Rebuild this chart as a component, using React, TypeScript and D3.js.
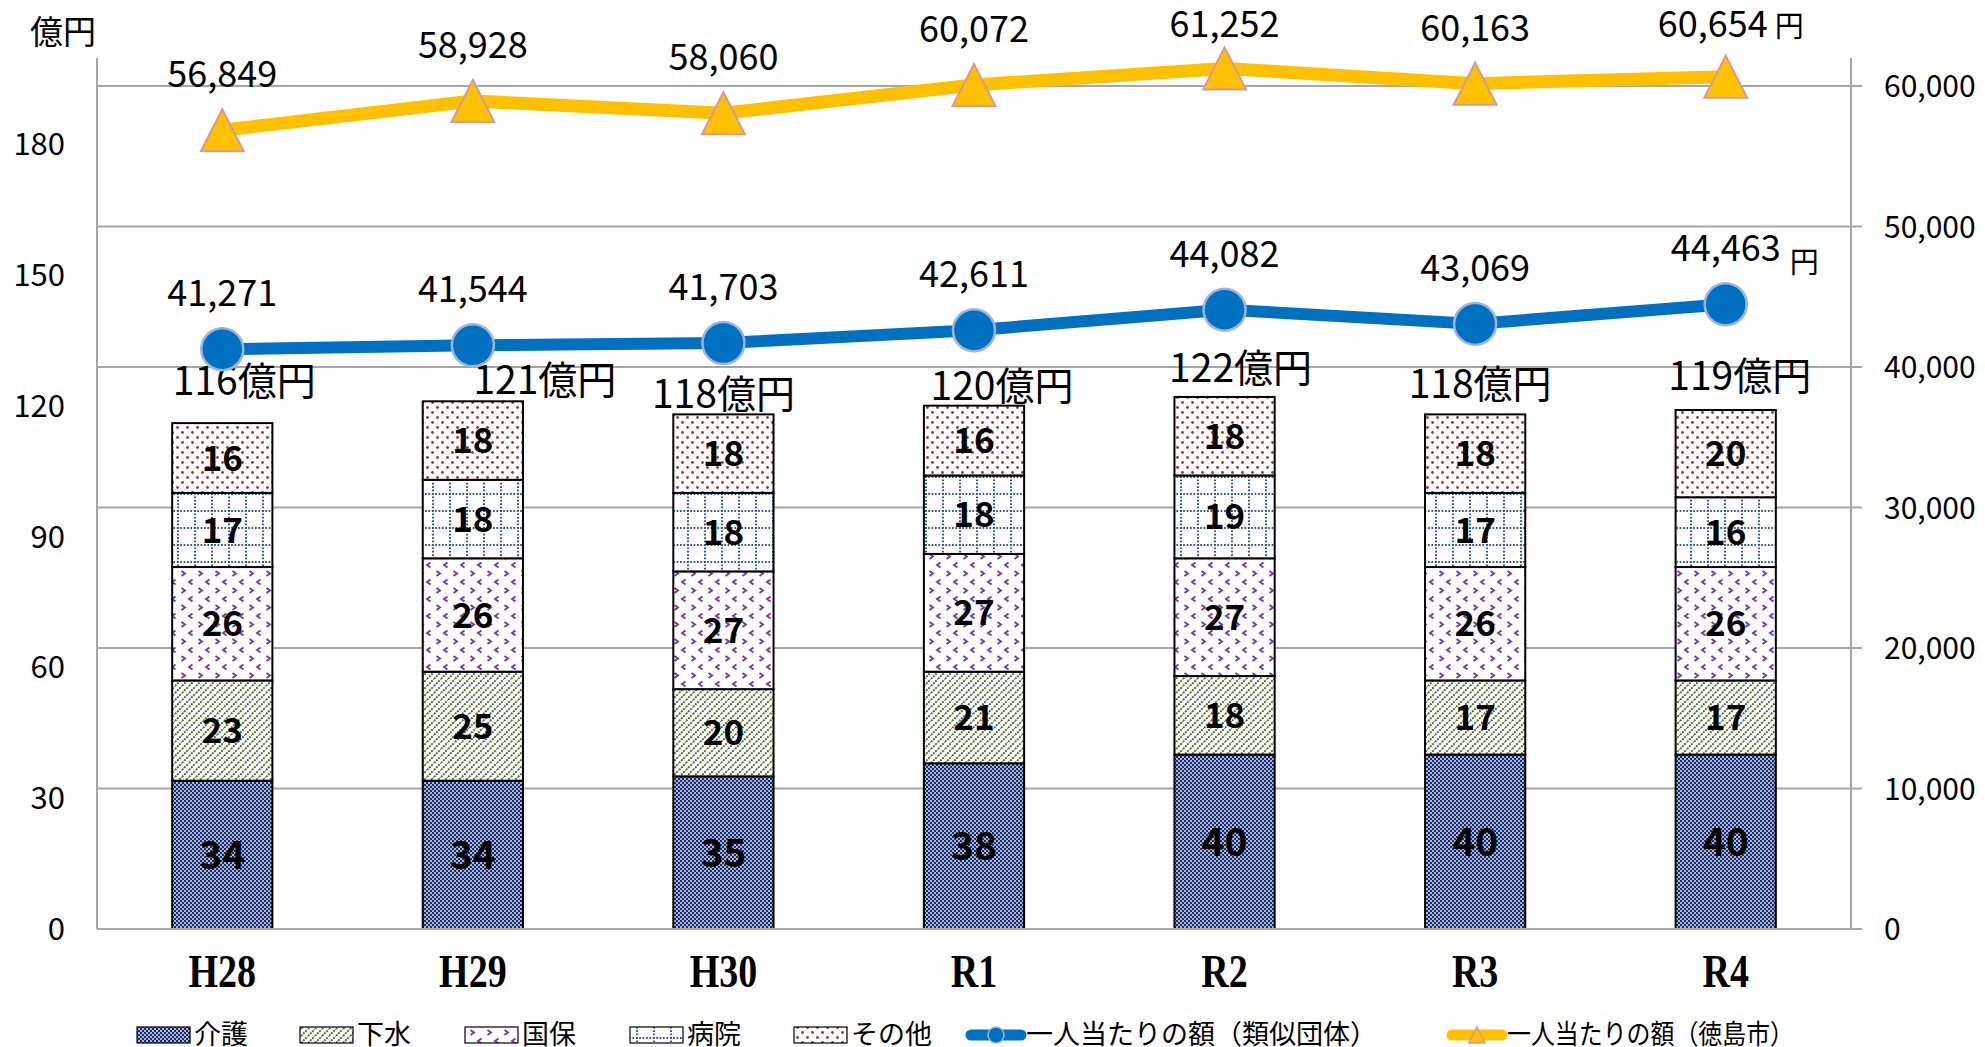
import React from "react";
import * as d3 from "d3";

// ---------- data ----------
const categories = ["H28", "H29", "H30", "R1", "R2", "R3", "R4"];
const seriesNames = ["介護", "下水", "国保", "病院", "その他"];
const kaigo = [34, 34, 35, 38, 40, 40, 40];
const gesui = [23, 25, 20, 21, 18, 17, 17];
const kokuho = [26, 26, 27, 27, 27, 26, 26];
const byoin = [17, 18, 18, 18, 19, 17, 16];
const sonota = [16, 18, 18, 16, 18, 18, 20];
const totals = [116, 121, 118, 120, 122, 118, 119];
const similarPerCapita = [41271, 41544, 41703, 42611, 44082, 43069, 44463];
const tokushimaPerCapita = [56849, 58928, 58060, 60072, 61252, 60163, 60654];
const lineNames = ["一人当たりの額（類似団体）", "一人当たりの額（徳島市）"];
const leftTicks = [0, 30, 60, 90, 120, 150, 180];
const rightTicks = [0, 10000, 20000, 30000, 40000, 50000, 60000];
const leftUnit = "億円";
const totalSuffix = "億円";
const yenSuffix = "円";

// ---------- layout (not data) ----------
const W = 1985;
const H = 1047;
const plotLeft = 97;
const plotRight = 1851;
const plotTop = 86;
const plotBottom = 929;
const totalLabelNudge = [
  [22, -14],
  [72, 7],
  [0, 8],
  [28, 8],
  [16, -1],
  [5, -2],
  [14, -6],
];
const legendStarts = [137, 300, 465, 630, 794, 966, 1447];
const legendLineTextW = [351, 287];
const JP = "'Noto Sans CJK JP', 'Noto Sans', sans-serif";
const patternIds = ["pKaigo", "pGesui", "pKokuho", "pByoin", "pSonota"];

export default function App() {
  const seriesValues = [kaigo, gesui, kokuho, byoin, sonota];
  const rows = categories.map((c, i) => {
    const r: any = { cat: c };
    seriesNames.forEach((s, k) => (r[s] = seriesValues[k][i]));
    return r;
  });
  const stacked = d3.stack().keys(seriesNames)(rows);

  const x = d3
    .scaleBand()
    .domain(categories)
    .range([plotLeft, plotRight])
    .paddingInner(0.6)
    .paddingOuter(0.3);
  const cx = (c: string) => (x(c) as number) + x.bandwidth() / 2;
  const yL = d3.scaleLinear().domain([0, 193.3]).range([plotBottom, plotTop]);
  const yR = d3.scaleLinear().domain([0, 60000]).range([plotBottom, plotTop]);

  const line = d3
    .line<number>()
    .x((_, i) => cx(categories[i]))
    .y((d) => yR(d));

  const gridColor = "#a6a6a6";
  const fmt = d3.format(",");

  const legendItems = [
    ...seriesNames.map((n, k) => ({ name: n, kind: "bar", k })),
    { name: lineNames[0], kind: "blue", k: 0 },
    { name: lineNames[1], kind: "orange", k: 1 },
  ];
  const legY = 1035;

  const tri = (px: number, py: number, s: number) =>
    `M${px},${py - s}L${px + s * 1.02},${py + s}L${px - s * 1.02},${py + s}Z`;

  const lastI = categories.length - 1;
  const orangeLastDx = -13;
  const topClamp = 37;

  return (
    <svg
      width={W}
      height={H}
      style={{ position: "absolute", left: 0, top: 0, background: "#fff" }}
    >
      <defs>
        <pattern id="pKaigo" width="4" height="4" patternUnits="userSpaceOnUse">
          <rect width="4" height="4" fill="#aab6d6" />
          <rect width="2" height="2" fill="#1a2c66" />
          <rect x="2" y="2" width="2" height="2" fill="#1a2c66" />
        </pattern>
        <pattern id="pGesui" width="7" height="7" patternUnits="userSpaceOnUse">
          <rect width="7" height="7" fill="#fff" />
          <path
            d="M0,7L7,0M-2,2L2,-2M5,9L9,5"
            stroke="#4e6b2a"
            strokeWidth="1.9"
            strokeDasharray="2,1"
          />
        </pattern>
        <pattern id="pKokuho" width="17" height="17" patternUnits="userSpaceOnUse">
          <rect width="17" height="17" fill="#fff" />
          <path
            d="M5.5,1.5L2,4L5.5,6.5M11.5,10L15,12.5L11.5,15"
            stroke="#7a35b0"
            strokeWidth="1.9"
            fill="none"
          />
        </pattern>
        <pattern id="pByoin" width="17" height="17" patternUnits="userSpaceOnUse">
          <rect width="17" height="17" fill="#fff" />
          <path
            d="M0,1H17M8,0V17"
            stroke="#2f5597"
            strokeWidth="2"
            strokeDasharray="1.7,1.7"
          />
        </pattern>
        <pattern id="pSonota" width="10" height="10" patternUnits="userSpaceOnUse">
          <rect width="10" height="10" fill="#fff" />
          <circle cx="2.5" cy="2.5" r="1.4" fill="#a83232" />
          <circle cx="7.5" cy="7.5" r="1.4" fill="#a83232" />
        </pattern>
      </defs>

      {/* gridlines from right axis */}
      {rightTicks.map((t) => (
        <line
          key={"g" + t}
          x1={plotLeft}
          x2={plotRight + 11}
          y1={yR(t)}
          y2={yR(t)}
          stroke={gridColor}
          strokeWidth={2}
        />
      ))}
      <line x1={plotLeft} x2={plotLeft} y1={58} y2={plotBottom} stroke={gridColor} strokeWidth={2} />
      <line x1={plotRight} x2={plotRight} y1={58} y2={plotBottom} stroke={gridColor} strokeWidth={2} />

      {/* left axis labels */}
      {leftTicks.map((t) => (
        <text
          key={"l" + t}
          x={65}
          y={yL(t) + 11}
          textAnchor="end"
          fontFamily={JP}
          fontSize={31}
          fill="#000"
        >
          {t}
        </text>
      ))}
      <text x={30} y={44} fontFamily={JP} fontSize={33} fill="#000">
        {leftUnit}
      </text>
      {/* right axis labels */}
      {rightTicks.map((t) => (
        <text
          key={"r" + t}
          x={1884}
          y={yR(t) + 11}
          textAnchor="start"
          fontFamily={JP}
          fontSize={30}
          fill="#000"
        >
          {fmt(t)}
        </text>
      ))}
      {/* x labels */}
      {categories.map((c) => (
        <text
          key={"x" + c}
          transform={`translate(${cx(c)},${987}) scale(1,1.22)`}
          textAnchor="middle"
          fontFamily="'Liberation Serif', 'Times New Roman', serif"
          fontWeight="bold"
          fontSize={38}
          fill="#000"
        >
          {c}
        </text>
      ))}

      {/* bars */}
      {stacked.map((s, k) => (
        <g key={"s" + k}>
          {s.map((d, i) => {
            const y0 = yL(d[0]);
            const y1 = yL(d[1]);
            const fs = k === 0 ? 39 : 35;
            return (
              <g key={i}>
                <rect
                  x={x(categories[i])}
                  y={y1}
                  width={x.bandwidth()}
                  height={y0 - y1}
                  fill={`url(#${patternIds[k]})`}
                  stroke="#000"
                  strokeWidth={2}
                />
                <text
                  x={cx(categories[i])}
                  y={(y0 + y1) / 2 + fs * 0.36}
                  textAnchor="middle"
                  fontFamily={JP}
                  fontWeight="bold"
                  fontSize={fs}
                  fill="#000"
                >
                  {d[1] - d[0]}
                </text>
              </g>
            );
          })}
        </g>
      ))}

      {/* total labels */}
      {categories.map((c, i) => (
        <text
          key={"t" + c}
          x={cx(c) + totalLabelNudge[i][0]}
          y={yL(totals[i]) - 28 + totalLabelNudge[i][1] + 14}
          textAnchor="middle"
          fontFamily={JP}
          fontSize={39}
          fill="#000"
        >
          {totals[i]}
          {totalSuffix}
        </text>
      ))}

      {/* lines */}
      <path
        d={line(tokushimaPerCapita) as string}
        fill="none"
        stroke="#ffc000"
        strokeWidth={13}
        strokeLinejoin="round"
      />
      <path
        d={line(similarPerCapita) as string}
        fill="none"
        stroke="#0070c0"
        strokeWidth={12}
        strokeLinejoin="round"
      />
      {tokushimaPerCapita.map((v, i) => (
        <path
          key={"tm" + i}
          d={tri(cx(categories[i]), yR(v), 21)}
          fill="#ffc000"
          stroke="#d49a9a"
          strokeWidth={2}
        />
      ))}
      {similarPerCapita.map((v, i) => (
        <circle
          key={"cm" + i}
          cx={cx(categories[i])}
          cy={yR(v)}
          r={21}
          fill="#0070c0"
          stroke="#9db5de"
          strokeWidth={2.5}
        />
      ))}
      {/* line labels */}
      {tokushimaPerCapita.map((v, i) => (
        <text
          key={"tl" + i}
          x={cx(categories[i]) + (i === lastI ? orangeLastDx : 0)}
          y={Math.max(yR(v) - 43, topClamp)}
          textAnchor="middle"
          fontFamily={JP}
          fontSize={36}
          fill="#000"
        >
          {fmt(v)}
        </text>
      ))}
      {similarPerCapita.map((v, i) => (
        <text
          key={"sl" + i}
          x={cx(categories[i])}
          y={yR(v) - 43}
          textAnchor="middle"
          fontFamily={JP}
          fontSize={36}
          fill="#000"
        >
          {fmt(v)}
        </text>
      ))}
      <text
        x={cx(categories[lastI]) + 64}
        y={yR(similarPerCapita[lastI]) - 31}
        fontFamily={JP}
        fontSize={29}
        fill="#000"
      >
        {yenSuffix}
      </text>
      <text
        x={cx(categories[lastI]) + orangeLastDx + 62}
        y={Math.max(yR(tokushimaPerCapita[lastI]) - 43, topClamp)}
        fontFamily={JP}
        fontSize={29}
        fill="#000"
      >
        {yenSuffix}
      </text>

      {/* baseline */}
      <line x1={plotLeft} x2={plotRight + 11} y1={plotBottom} y2={plotBottom} stroke={gridColor} strokeWidth={2} />

      {/* legend */}
      {legendItems.map((it, j) => {
        const x0 = legendStarts[j];
        const sw = it.kind === "bar" ? 53 : 60;
        const tx = x0 + sw + (it.kind === "bar" ? 4 : 0);
        return (
          <g key={"lg" + j}>
            {it.kind === "bar" ? (
              <rect
                x={x0}
                y={legY - 8}
                width={sw}
                height={16}
                fill={`url(#${patternIds[it.k]})`}
                stroke="#000"
                strokeWidth={1.2}
              />
            ) : (
              <g>
                <line
                  x1={x0 + 5}
                  x2={x0 + sw - 5}
                  y1={legY}
                  y2={legY}
                  stroke={it.kind === "blue" ? "#0070c0" : "#ffc000"}
                  strokeWidth={11}
                  strokeLinecap="round"
                />
                {it.kind === "blue" ? (
                  <circle cx={x0 + sw / 2} cy={legY} r={8} fill="#0070c0" stroke="#9db5de" strokeWidth={1.5} />
                ) : (
                  <path d={tri(x0 + sw / 2, legY, 8)} fill="#ffc000" stroke="#d49a9a" strokeWidth={1.5} />
                )}
              </g>
            )}
            <text
              x={tx}
              y={legY + 9}
              fontFamily={JP}
              fontSize={27}
              fill="#000"
              {...(it.kind === "bar"
                ? {}
                : { textLength: legendLineTextW[it.k], lengthAdjust: "spacingAndGlyphs" })}
            >
              {it.name}
            </text>
          </g>
        );
      })}
    </svg>
  );
}
